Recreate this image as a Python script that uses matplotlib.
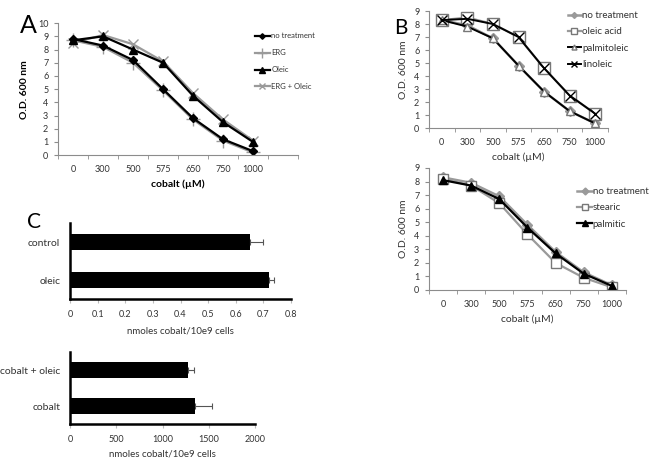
import numpy as np
import matplotlib
matplotlib.use("Agg")
import matplotlib.pyplot as plt
from matplotlib.ticker import FixedLocator, NullFormatter

plt.rcParams["font.family"] = ["Lato", "DejaVu Sans"]

COBALT = ["0", "300", "500", "575", "650", "750", "1000"]

# panel A
A_NO_TREAT = [8.8, 8.3, 7.2, 5.0, 2.8, 1.2, 0.3]
A_ERG = [8.7, 8.2, 7.0, 4.9, 2.7, 1.1, 0.2]
A_OLEIC = [8.7, 9.0, 8.0, 7.0, 4.5, 2.5, 1.0]
A_ERG_OLEIC = [8.5, 9.1, 8.4, 7.1, 4.7, 2.7, 1.1]

# panel B (top)
B_NO_TREAT = [8.3, 7.9, 6.9, 4.8, 2.8, 1.3, 0.35]
B_OLEIC = [8.3, 8.5, 8.0, 7.0, 4.6, 2.5, 1.1]
B_PALMITOLEIC = [8.3, 7.8, 6.9, 4.8, 2.8, 1.3, 0.35]
B_LINOLEIC = [8.3, 8.4, 8.0, 7.0, 4.6, 2.5, 1.1]

# panel B (bottom)
B2_NO_TREAT = [8.3, 7.9, 6.9, 4.8, 2.8, 1.3, 0.35]
B2_STEARIC = [8.2, 7.7, 6.4, 4.1, 2.0, 0.9, 0.2]
B2_PALMITIC = [8.1, 7.7, 6.7, 4.6, 2.7, 1.2, 0.3]

# panel C
C1_LABELS = ["control", "oleic"]
C1_VALUES = [0.65, 0.72]
C1_ERR = [0.05, 0.02]
C2_LABELS = ["cobalt + oleic", "cobalt"]
C2_VALUES = [1280, 1350]
C2_ERR = [60, 190]

GRAY = "#9a9a9a"
AXC = "#8c8c8c"
TXT = "#333333"


def style_line_axes(ax, n_slots, ymax, fs):
    x = np.arange(len(COBALT))
    ax.set_xlim(-0.5, n_slots - 0.5)
    ax.set_ylim(0, ymax)
    ax.set_xticks(x)
    ax.set_xticklabels(COBALT)
    ax.xaxis.set_minor_locator(FixedLocator(np.arange(-0.5, n_slots, 1.0)))
    ax.xaxis.set_minor_formatter(NullFormatter())
    ax.tick_params(axis="x", which="major", length=0, pad=7, labelsize=fs, colors=TXT)
    ax.tick_params(axis="x", which="minor", length=3, color=AXC)
    ax.tick_params(axis="y", length=3, color=AXC, labelsize=fs, labelcolor=TXT, pad=4)
    ax.set_yticks(range(0, ymax + 1))
    for s in ("top", "right"):
        ax.spines[s].set_visible(False)
    for s in ("left", "bottom"):
        ax.spines[s].set_color(AXC)
        ax.spines[s].set_linewidth(0.8)


def style_bar_axes(ax, labels, xmax, xticks, fs):
    ax.set_xlim(0, xmax)
    ax.set_ylim(1.5, -0.5)
    ax.set_yticks(range(len(labels)))
    ax.set_yticklabels(labels)
    ax.set_xticks(xticks)
    ax.tick_params(axis="y", length=0, labelsize=7.5, labelcolor=TXT, pad=7)
    ax.tick_params(axis="x", length=3, color="#bbbbbb", labelsize=fs, labelcolor=TXT, pad=5)
    for s in ("top", "right"):
        ax.spines[s].set_visible(False)
    for s in ("left", "bottom"):
        ax.spines[s].set_color("black")
        ax.spines[s].set_linewidth(1.8)


fig = plt.figure(figsize=(6.52, 4.63), dpi=100)

# ---- A ----
axA = fig.add_axes([0.089, 0.665, 0.368, 0.285])
x = np.arange(len(COBALT))
axA.plot(x, A_ERG, color=GRAY, lw=1.6, marker="+", ms=10, mew=1.0, label="ERG")
axA.plot(x, A_ERG_OLEIC, color=GRAY, lw=1.6, marker="x", ms=7, mew=1.0, label="ERG + Oleic")
axA.plot(x, A_NO_TREAT, color="black", lw=1.6, marker="D", ms=4, label="no treatment")
axA.plot(x, A_OLEIC, color="black", lw=1.6, marker="^", ms=6, label="Oleic")
style_line_axes(axA, 8, 10, 6.5)
axA.set_ylabel("O.D. 600 nm", fontsize=7.5, fontweight="bold", labelpad=6)
axA.set_xlabel("cobalt (\u00b5M)", fontsize=7.5, fontweight="bold", labelpad=4)
h, l = axA.get_legend_handles_labels()
order = [2, 0, 3, 1]
axA.legend([h[i] for i in order], [l[i] for i in order], loc="upper left",
           bbox_to_anchor=(0.38, 0.945), bbox_transform=fig.transFigure,
           frameon=False, fontsize=5.5, handlelength=2.0, handletextpad=0.2,
           labelspacing=1.3, labelcolor=TXT, markerscale=0.7)
fig.text(0.03, 0.945, "A", fontsize=18, va="center")

# ---- B top ----
axB = fig.add_axes([0.658, 0.7235, 0.2745, 0.2527])
axB.plot(x, B_NO_TREAT, color=GRAY, lw=1.8, marker="D", ms=5, label="no treatment")
axB.plot(x, B_OLEIC, color=GRAY, lw=1.6, marker="s", ms=8, mfc="white", mec="#777777",
         label="oleic acid")
axB.plot(x, B_PALMITOLEIC, color="black", lw=1.4, marker="^", ms=6, mfc="white",
         mec="#777777", label="palmitoleic")
axB.plot(x, B_LINOLEIC, color="black", lw=1.4, marker="x", ms=7, mew=1.0, label="linoleic")
style_line_axes(axB, 7, 9, 6.5)
axB.set_ylabel("O.D. 600 nm", fontsize=7.5, color=TXT, labelpad=4)
axB.set_xlabel("cobalt (\u00b5M)", fontsize=7.5, color=TXT, labelpad=4)
axB.legend(loc="upper left", bbox_to_anchor=(0.858, 0.995), bbox_transform=fig.transFigure,
           frameon=False, fontsize=7, handlelength=1.3, handletextpad=0.15,
           labelspacing=0.75, labelcolor=TXT, markerscale=0.6)
fig.text(0.605, 0.94, "B", fontsize=15, va="center")

# ---- B bottom ----
axB2 = fig.add_axes([0.658, 0.3737, 0.302, 0.2635])
axB2.plot(x, B2_NO_TREAT, color=GRAY, lw=1.8, marker="D", ms=5, label="no treatment")
axB2.plot(x, B2_STEARIC, color=GRAY, lw=1.6, marker="s", ms=7, mfc="white", mec="#777777",
          label="stearic")
axB2.plot(x, B2_PALMITIC, color="black", lw=1.6, marker="^", ms=6, label="palmitic")
style_line_axes(axB2, 7, 9, 6.5)
axB2.set_ylabel("O.D. 600 nm", fontsize=7.5, color=TXT, labelpad=4)
axB2.set_xlabel("cobalt (\u00b5M)", fontsize=7.5, color=TXT, labelpad=4)
axB2.legend(loc="upper left", bbox_to_anchor=(0.872, 0.615), bbox_transform=fig.transFigure,
            frameon=False, fontsize=7, handlelength=1.5, handletextpad=0.1,
            labelspacing=0.75, labelcolor=TXT, markerscale=0.7)

# ---- C top ----
axC = fig.add_axes([0.1074, 0.354, 0.339, 0.164])
axC.barh(range(len(C1_LABELS)), C1_VALUES, height=0.42, color="black",
         xerr=[[0] * len(C1_ERR), C1_ERR], error_kw=dict(ecolor="#555555", lw=0.8,
                                                         capsize=2.5, capthick=0.8))
style_bar_axes(axC, C1_LABELS, 0.8, np.arange(0, 0.81, 0.1), 6.5)
axC.set_xticklabels(["0", "0.1", "0.2", "0.3", "0.4", "0.5", "0.6", "0.7", "0.8"])
axC.set_xlabel("nmoles cobalt/10e9 cells", fontsize=7, color=TXT, labelpad=5)
fig.text(0.042, 0.52, "C", fontsize=15, va="center")

# ---- C bottom ----
axC2 = fig.add_axes([0.1074, 0.0842, 0.2837, 0.1555])
axC2.barh(range(len(C2_LABELS)), C2_VALUES, height=0.42, color="black",
          xerr=[[0] * len(C2_ERR), C2_ERR], error_kw=dict(ecolor="#555555", lw=0.8,
                                                          capsize=2.5, capthick=0.8))
style_bar_axes(axC2, C2_LABELS, 2000, [0, 500, 1000, 1500, 2000], 6.5)
axC2.set_xlabel("nmoles cobalt/10e9 cells", fontsize=7, color=TXT, labelpad=4)

fig.savefig("out.png", dpi=100)
